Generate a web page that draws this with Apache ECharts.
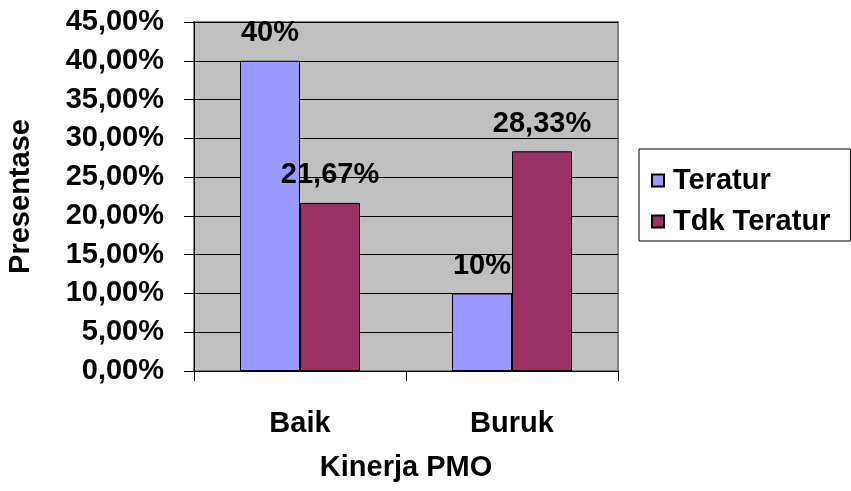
<!DOCTYPE html>
<html>
<head>
<meta charset="utf-8">
<script src="https://cdn.jsdelivr.net/npm/echarts@6/dist/echarts.min.js"></script>
<style>
  html, body { margin: 0; padding: 0; background: #fff; }
  #chart { width: 851px; height: 491px; }
</style>
</head>
<body>
<div id="chart"></div>
<script>
const categories = ["Baik", "Buruk"];
const seriesNames = ["Teratur", "Tdk Teratur"];
const teratur = [40, 10];
const tdkTeratur = [21.67, 28.33];

const font = "Liberation Sans, Arial, sans-serif";

// Excel style: 40% / 21,67%
const pct = (v) =>
  (Number.isInteger(v) ? String(v) : v.toFixed(2).replace(".", ",")) + "%";

const chart = echarts.init(document.getElementById("chart"));

const labelStyle = {
  show: true,
  position: "top",
  distance: 13,
  fontFamily: font,
  fontWeight: "bold",
  fontSize: 29,
  color: "#000",
  formatter: (p) => pct(p.value),
};

chart.setOption({
  animation: false,
  backgroundColor: "#fff",
  textStyle: { fontFamily: font },
  grid: {
    left: 194,
    right: 233,
    top: 22,
    bottom: 120,
    outerBoundsMode: "none",
    show: true,
    backgroundColor: "#c0c0c0",
    borderColor: "#808080",
    borderWidth: 2,
  },
  legend: {
    orient: "vertical",
    left: 639,
    top: 149,
    data: seriesNames,
    padding: [17, 20, 5, 12],
    itemGap: 12,
    itemWidth: 12,
    itemHeight: 12,
    borderColor: "#000",
    borderWidth: 1,
    icon: "rect",
    textStyle: {
      fontFamily: font,
      fontWeight: "bold",
      fontSize: 29,
      color: "#000",
      padding: [0, 0, 0, 4],
    },
  },
  xAxis: {
    type: "category",
    data: categories,
    name: "Kinerja PMO",
    nameLocation: "middle",
    nameGap: 82,
    nameTextStyle: { fontFamily: font, fontWeight: "bold", fontSize: 29, color: "#000" },
    axisLine: { lineStyle: { color: "#000", width: 1 } },
    axisTick: { show: true, length: 10, lineStyle: { color: "#000" } },
    axisLabel: {
      margin: 38,
      fontFamily: font,
      fontWeight: "bold",
      fontSize: 29,
      color: "#000",
    },
  },
  yAxis: {
    type: "value",
    min: 0,
    max: 45,
    interval: 5,
    name: "Presentase",
    nameLocation: "middle",
    nameGap: 159,
    nameRotate: 90,
    nameTextStyle: { fontFamily: font, fontWeight: "bold", fontSize: 29, color: "#000" },
    axisLine: { show: true, lineStyle: { color: "#000", width: 1 } },
    axisTick: { show: true, length: 10, lineStyle: { color: "#000" } },
    splitLine: { show: true, lineStyle: { color: "#000", width: 1 } },
    axisLabel: {
      margin: 30,
      fontFamily: font,
      fontWeight: "bold",
      fontSize: 29,
      color: "#000",
      formatter: (v) => v.toFixed(2).replace(".", ",") + "%",
    },
  },
  series: [
    {
      name: seriesNames[0],
      type: "bar",
      data: teratur,
      barWidth: 60,
      barGap: "0%",
      itemStyle: { color: "#9999ff", borderColor: "#000", borderWidth: 1 },
      label: labelStyle,
    },
    {
      name: seriesNames[1],
      type: "bar",
      data: tdkTeratur,
      barWidth: 60,
      barGap: "0%",
      itemStyle: { color: "#993366", borderColor: "#000", borderWidth: 1 },
      label: labelStyle,
    },
  ],
});
</script>
</body>
</html>
